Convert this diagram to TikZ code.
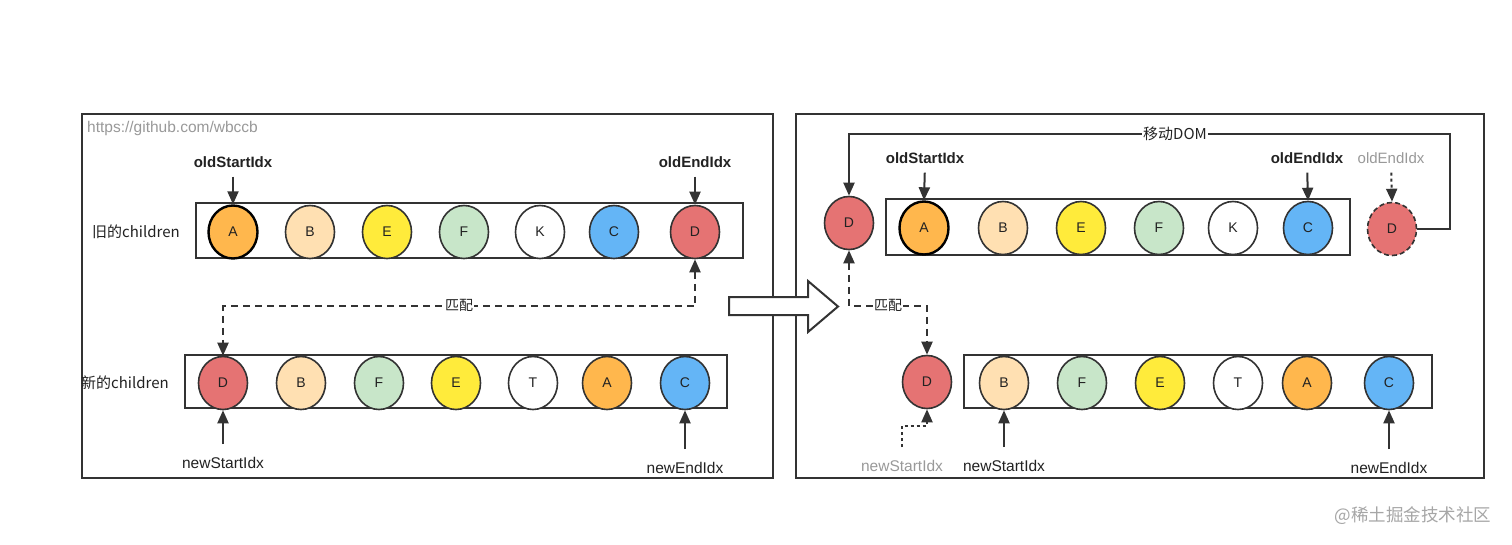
\documentclass[tikz,border=0pt]{standalone}
\usepackage{fontspec}
\setmainfont{Liberation Sans}
\newfontfamily\cjk{Noto Sans CJK SC}
\usetikzlibrary{arrows.meta,shapes.geometric}
\definecolor{linec}{HTML}{333333}
\definecolor{textc}{HTML}{222222}
\definecolor{grayt}{HTML}{999999}
\definecolor{cA}{HTML}{FFB74D}
\definecolor{cB}{HTML}{FFE0B2}
\definecolor{cE}{HTML}{FFEB3B}
\definecolor{cF}{HTML}{C8E6C9}
\definecolor{cK}{HTML}{FFFFFF}
\definecolor{cC}{HTML}{64B5F6}
\definecolor{cD}{HTML}{E57373}
\begin{document}
\begin{tikzpicture}[x=1pt,y=-1pt,
  panel/.style={draw=linec, line width=2pt},
  rowbox/.style={draw=linec, line width=2.2pt, fill=none, inner sep=0pt},
  ball/.style={ellipse, draw=linec, line width=1.6pt, minimum width=49pt, minimum height=53pt, inner sep=0pt, font=\fontsize{14}{14}\selectfont, text=textc},
  thick ball/.style={ball, draw=black, line width=2.4pt},
  oldlbl/.style={inner sep=0pt, font=\bfseries\fontsize{15}{15}\selectfont, text=textc},
  newlbl/.style={inner sep=0pt, font=\fontsize{15.5}{15.5}\selectfont, text=textc},
  graylbl/.style={inner sep=0pt, font=\fontsize{15}{15}\selectfont, text=grayt},
  sidelbl/.style={inner sep=0pt, font=\cjk\fontsize{15}{15}\selectfont, text=textc},
  midlbl/.style={inner sep=1pt, fill=white, font=\cjk\fontsize{14}{14}\selectfont, text=textc},
  tip/.style={-{Triangle[length=13pt,width=11pt]}},
  arr/.style={draw=linec, line width=2pt, tip},
  dasharr/.style={draw=linec, line width=2pt, dash pattern=on 7pt off 5pt, {Triangle[length=13pt,width=11pt]}-{Triangle[length=13pt,width=11pt]}},
  dotarr/.style={draw=linec, line width=2pt, dash pattern=on 3pt off 3pt, tip},
]
\useasboundingbox (0,0) rectangle (1512,544);
\fill[white] (0,0) rectangle (1512,544);

% ---------------- left panel ----------------
\draw[panel] (82,114) rectangle (773,478);
\node[inner sep=0pt, anchor=west, font=\fontsize{15.5}{15.5}\selectfont, text=grayt] (url) at (87,128) {https://github.com/wbccb};

\node[rowbox, minimum width=547pt, minimum height=55pt] (obox) at (469.5,230.5) {};
\node[sidelbl] (olbl) at (136,232) {旧的children};
\node[thick ball, fill=cA] (oA) at (233,232) {A};
\node[ball, fill=cB] (oB) at (310,232) {B};
\node[ball, fill=cE] (oE) at (387,232) {E};
\node[ball, fill=cF] (oF) at (464,232) {F};
\node[ball, fill=cK] (oK) at (540,232) {K};
\node[ball, fill=cC] (oC) at (614,232) {C};
\node[ball, fill=cD] (oD) at (695,232) {D};

\node[oldlbl] (lOS) at (233,162) {oldStartIdx};
\node[oldlbl] (lOE) at (695,162) {oldEndIdx};
\draw[arr, shorten <=9pt] (lOS.south) -- (oA.north);
\draw[arr, shorten <=9pt] (lOE.south) -- (oD.north);

\node[rowbox, minimum width=542pt, minimum height=53pt] (nbox) at (456,381.5) {};
\node[sidelbl] (nlbl) at (125,383) {新的children};
\node[ball, fill=cD] (nD) at (223,383) {D};
\node[ball, fill=cB] (nB) at (301,383) {B};
\node[ball, fill=cF] (nF) at (379,383) {F};
\node[ball, fill=cE] (nE) at (456,383) {E};
\node[ball, fill=cK] (nT) at (533,383) {T};
\node[ball, fill=cA] (nA) at (607,383) {A};
\node[ball, fill=cC] (nC) at (685,383) {C};

\node[newlbl] (lNS) at (223,463) {newStartIdx};
\node[newlbl] (lNE) at (685,468) {newEndIdx};
\draw[arr, shorten <=13pt] (lNS.north) -- (nD.south);
\draw[arr, shorten <=13pt] (lNE.north) -- (nC.south);

\draw[dasharr] (oD.south) -- ++(0,47) -| (nD.north);
\node[midlbl] (m1) at (459,305.5) {匹配};

% ---------------- right panel ----------------
\draw[panel] (796,114) rectangle (1484,478);

\node[ball, fill=cD] (rD) at (849,223) {D};
\node[rowbox, minimum width=464pt, minimum height=56pt] (robox) at (1118,227) {};
\node[thick ball, fill=cA] (rA) at (924,228) {A};
\node[ball, fill=cB] (rB) at (1003,228) {B};
\node[ball, fill=cE] (rE) at (1081,228) {E};
\node[ball, fill=cF] (rF) at (1159,228) {F};
\node[ball, fill=cK] (rK) at (1233,228) {K};
\node[ball, fill=cC] (rC) at (1308,228) {C};
\node[ball, fill=cD, dash pattern=on 5pt off 3pt] (dD) at (1392,229) {D};

\node[oldlbl] (rlOS) at (925,158) {oldStartIdx};
\node[oldlbl] (rlOE) at (1307,158) {oldEndIdx};
\node[graylbl] (rlOEg) at (1391,158) {oldEndIdx};
\draw[arr, shorten <=9pt] (rlOS.south) -- (rA.north);
\draw[arr, shorten <=9pt] (rlOE.south) -- (rC.north);
\draw[dotarr, shorten <=9pt] (rlOEg.south) -- (dD.north);

\draw[arr] (dD.east) -| (1450,134) -| (rD.north);
\node[midlbl, font=\cjk\fontsize{15}{15}\selectfont] (mv) at (1175,134) {移动DOM};

\node[ball, fill=cD] (rnD) at (927,382) {D};
\node[rowbox, minimum width=468pt, minimum height=53pt] (rnbox) at (1198,381.5) {};
\node[ball, fill=cB] (rnB) at (1004,383) {B};
\node[ball, fill=cF] (rnF) at (1082,383) {F};
\node[ball, fill=cE] (rnE) at (1160,383) {E};
\node[ball, fill=cK] (rnT) at (1238,383) {T};
\node[ball, fill=cA] (rnA) at (1307,383) {A};
\node[ball, fill=cC] (rnC) at (1389,383) {C};

\draw[dasharr] (rD.south) -- ++(0,55.5) -| (rnD.north);
\node[midlbl] (m2) at (888,305) {匹配};

\node[graylbl, font=\fontsize{15.5}{15.5}\selectfont] (rlNSg) at (902,466) {newStartIdx};
\node[newlbl] (rlNS) at (1004,466) {newStartIdx};
\node[newlbl] (rlNE) at (1389,468) {newEndIdx};
\draw[dotarr, shorten <=13pt] (rlNSg.north) -- ++(0,-34.5) -| (rnD.south);
\draw[arr, shorten <=13pt] (rlNS.north) -- (rnB.south);
\draw[arr, shorten <=13pt] (rlNE.north) -- (rnC.south);

% ---------------- big hollow arrow ----------------
\draw[draw=linec, line width=2pt, fill=white, line join=miter]
  (729,297) -- (808,297) -- (808,281) -- (838,306.5) -- (808,332) -- (808,315) -- (729,315) -- cycle;

% ---------------- watermark ----------------
\node[inner sep=0pt, font=\cjk\fontsize{17.5}{17.5}\selectfont, text=black!35] (wm) at (1413,516) {@稀土掘金技术社区};
\end{tikzpicture}
\end{document}
